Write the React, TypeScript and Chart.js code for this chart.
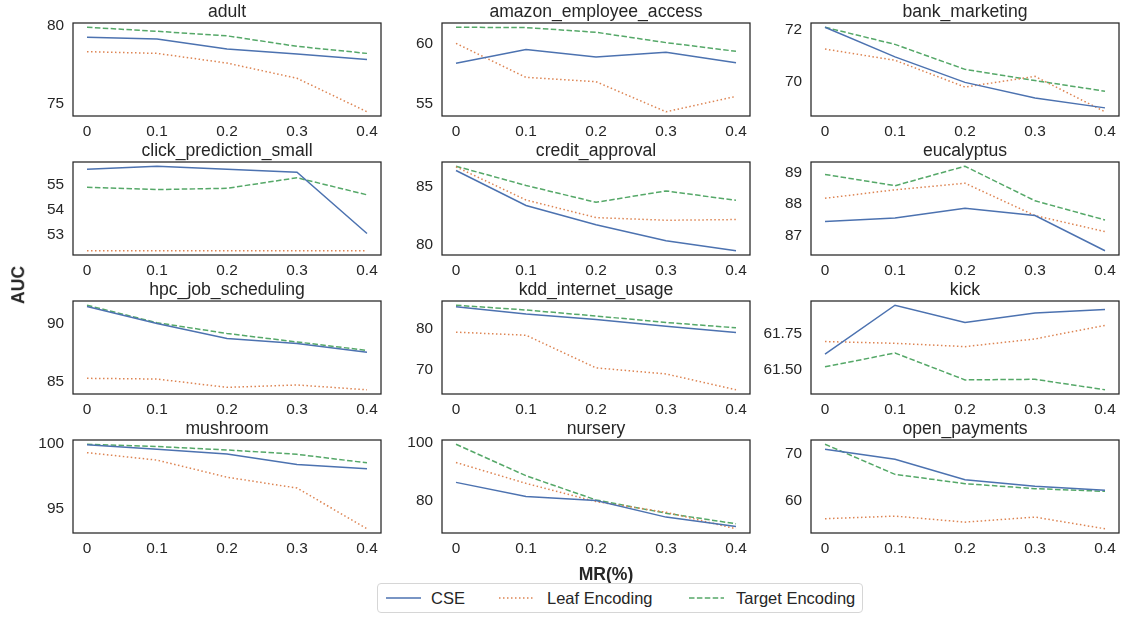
import React, { useEffect, useRef } from "react";
import { Chart, registerables } from "chart.js";

Chart.register(...registerables);

// ---------- data ----------
const mrValues = [0, 0.1, 0.2, 0.3, 0.4];
const xTickLabels = ["0", "0.1", "0.2", "0.3", "0.4"];
const seriesNames = ["CSE", "Leaf Encoding", "Target Encoding"];

const panelTitles = [
  "adult",
  "amazon_employee_access",
  "bank_marketing",
  "click_prediction_small",
  "credit_approval",
  "eucalyptus",
  "hpc_job_scheduling",
  "kdd_internet_usage",
  "kick",
  "mushroom",
  "nursery",
  "open_payments",
];

const cseAUC = [
  [79.25, 79.14, 78.5, 78.18, 77.83],
  [58.39, 59.53, 58.92, 59.31, 58.44],
  [72.08, 70.94, 69.96, 69.36, 68.98],
  [55.62, 55.74, 55.62, 55.5, 53.06],
  [86.37, 83.37, 81.72, 80.35, 79.48],
  [87.44, 87.55, 87.86, 87.63, 86.51],
  [91.53, 90.06, 88.74, 88.3, 87.53],
  [85.53, 83.72, 82.4, 80.74, 79.17],
  [61.611, 61.947, 61.828, 61.893, 61.917],
  [99.95, 99.6, 99.23, 98.42, 98.1],
  [86.33, 81.36, 79.97, 74.2, 70.94],
  [70.91, 68.8, 64.5, 63.09, 62.24],
];

const leafAUC = [
  [78.33, 78.22, 77.6, 76.63, 74.49],
  [60.05, 57.22, 56.86, 54.36, 55.64],
  [71.24, 70.81, 69.78, 70.19, 68.83],
  [52.37, 52.37, 52.37, 52.37, 52.37],
  [86.69, 83.84, 82.33, 82.1, 82.16],
  [88.18, 88.45, 88.66, 87.63, 87.12],
  [85.26, 85.2, 84.47, 84.68, 84.26],
  [79.26, 78.51, 70.49, 69.0, 65.11],
  [61.697, 61.685, 61.662, 61.715, 61.808],
  [99.34, 98.76, 97.44, 96.6, 93.45],
  [93.27, 85.98, 79.62, 75.9, 70.13],
  [56.26, 56.81, 55.54, 56.6, 54.14],
];

const targetAUC = [
  [79.89, 79.63, 79.34, 78.67, 78.22],
  [61.39, 61.36, 60.97, 60.11, 59.39],
  [72.08, 71.42, 70.46, 70.03, 69.62],
  [54.9, 54.81, 54.86, 55.28, 54.6],
  [86.74, 85.09, 83.64, 84.62, 83.81],
  [88.94, 88.58, 89.2, 88.1, 87.49],
  [91.65, 90.12, 89.18, 88.44, 87.7],
  [85.88, 84.71, 83.23, 81.65, 80.33],
  [61.523, 61.618, 61.433, 61.437, 61.365],
  [99.99, 99.81, 99.55, 99.21, 98.55],
  [99.65, 88.64, 80.2, 75.56, 71.88],
  [71.97, 65.62, 63.65, 62.6, 62.03],
];

const yTickValues = [
  [75, 80],
  [55, 60],
  [70, 72],
  [53, 54, 55],
  [80, 85],
  [87, 88, 89],
  [85, 90],
  [70, 80],
  [61.5, 61.75],
  [95, 100],
  [80, 100],
  [60, 70],
];

// ---------- styling / layout ----------
const FONT = '"Liberation Sans", Arial, Helvetica, sans-serif';
const TEXT = "#262626";
const COLORS = ["#4c72b0", "#dd8452", "#55a868"];
const DASHES: number[][] = [[], [1.5, 2.5], [5.5, 2.4]];

const COL_LEFT = [73, 442, 811];
const ROW_TOP = [23, 162, 301, 440];
const PLOT_W = 308;
const PLOT_H = 93;
const PAD_L = 70;
const PAD_T = 24;
const PAD_R = 6;
const PAD_B = 30;

const framePlugin = {
  id: "frame",
  afterDraw(chart: any, _args: any, opts: any) {
    const { ctx, chartArea: a } = chart;
    ctx.save();
    ctx.strokeStyle = TEXT;
    ctx.lineWidth = 1.25;
    ctx.setLineDash([]);
    ctx.strokeRect(a.left, a.top, a.right - a.left, a.bottom - a.top);
    ctx.fillStyle = TEXT;
    ctx.font = `17.6px ${FONT}`;
    ctx.textAlign = "center";
    ctx.textBaseline = "alphabetic";
    ctx.fillText(opts.text || "", (a.left + a.right) / 2, a.top - 6);
    ctx.restore();
  },
};

function Panel({ idx }: { idx: number }) {
  const ref = useRef<HTMLCanvasElement | null>(null);
  const col = idx % 3;
  const row = Math.floor(idx / 3);
  const w = PAD_L + PLOT_W + PAD_R;
  const h = PAD_T + PLOT_H + PAD_B;

  useEffect(() => {
    if (!ref.current) return;
    const all = [...cseAUC[idx], ...leafAUC[idx], ...targetAUC[idx]];
    const lo = Math.min(...all);
    const hi = Math.max(...all);
    const m = (hi - lo) * 0.05;
    const ticks = yTickValues[idx];
    const decimals = ticks.some((t) => !Number.isInteger(t)) ? 2 : 0;
    const series = [cseAUC[idx], leafAUC[idx], targetAUC[idx]];

    const chart = new Chart(ref.current, {
      type: "line",
      data: {
        datasets: series.map((vals, s) => ({
          label: seriesNames[s],
          data: mrValues.map((x, i) => ({ x, y: vals[i] })),
          borderColor: COLORS[s],
          backgroundColor: COLORS[s],
          borderWidth: 1.5,
          borderDash: DASHES[s],
          pointRadius: 0,
          tension: 0,
          fill: false,
        })),
      },
      options: {
        animation: false,
        responsive: false,
        devicePixelRatio: 1,
        layout: { padding: { left: 0, top: PAD_T, right: PAD_R, bottom: 0 } },
        plugins: {
          legend: { display: false },
          tooltip: { enabled: false },
          frame: { text: panelTitles[idx] },
        } as any,
        scales: {
          x: {
            type: "linear",
            min: -0.02,
            max: 0.42,
            grid: { display: false, drawTicks: false },
            border: { display: false },
            afterBuildTicks: (s: any) => {
              s.ticks = mrValues.map((v) => ({ value: v }));
            },
            afterFit: (s: any) => {
              s.height = PAD_B;
            },
            ticks: {
              autoSkip: false,
              maxRotation: 0,
              padding: 7,
              color: TEXT,
              font: { family: FONT, size: 15.4 },
              callback: (v: any) => {
                const i = mrValues.indexOf(Number(v));
                return i >= 0 ? xTickLabels[i] : "";
              },
            },
          },
          y: {
            type: "linear",
            min: lo - m,
            max: hi + m,
            grid: { display: false, drawTicks: false },
            border: { display: false },
            afterBuildTicks: (s: any) => {
              s.ticks = ticks.map((v) => ({ value: v }));
            },
            afterFit: (s: any) => {
              s.width = PAD_L;
            },
            ticks: {
              autoSkip: false,
              padding: 9,
              color: TEXT,
              font: { family: FONT, size: 15.4 },
              callback: (v: any) => Number(v).toFixed(decimals),
            },
          },
        },
      },
      plugins: [framePlugin as any],
    });
    return () => chart.destroy();
  }, [idx]);

  return (
    <canvas
      ref={ref}
      width={w}
      height={h}
      style={{
        position: "absolute",
        left: COL_LEFT[col] - PAD_L,
        top: ROW_TOP[row] - PAD_T,
        width: w,
        height: h,
      }}
    />
  );
}

function LegendSample({ s }: { s: number }) {
  const ref = useRef<HTMLCanvasElement | null>(null);
  useEffect(() => {
    const c = ref.current;
    if (!c) return;
    const ctx = c.getContext("2d")!;
    ctx.clearRect(0, 0, c.width, c.height);
    ctx.strokeStyle = COLORS[s];
    ctx.lineWidth = 1.5;
    ctx.setLineDash(DASHES[s]);
    ctx.beginPath();
    ctx.moveTo(0, 5);
    ctx.lineTo(35, 5);
    ctx.stroke();
  }, [s]);
  return <canvas ref={ref} width={35} height={10} style={{ display: "block" }} />;
}

const legendSampleX = [8, 121, 311];
const legendTextX = [53, 169, 358];

export default function App() {
  return (
    <div
      style={{
        position: "absolute",
        left: 0,
        top: 0,
        width: 1129,
        height: 618,
        background: "#ffffff",
        overflow: "hidden",
        fontFamily: FONT,
        color: TEXT,
      }}
    >
      {panelTitles.map((_, i) => (
        <Panel key={i} idx={i} />
      ))}
      <div
        style={{
          position: "absolute",
          left: 19,
          top: 285,
          transform: "translate(-50%, -50%) rotate(-90deg)",
          fontWeight: "bold",
          fontSize: 17.6,
          whiteSpace: "nowrap",
          lineHeight: 1,
        }}
      >
        AUC
      </div>
      <div
        style={{
          position: "absolute",
          left: 606,
          top: 575,
          transform: "translate(-50%, -50%)",
          fontWeight: "bold",
          fontSize: 17.6,
          whiteSpace: "nowrap",
          lineHeight: 1,
        }}
      >
        MR(%)
      </div>
      <div
        style={{
          position: "absolute",
          left: 377,
          top: 583,
          width: 486,
          height: 30,
          boxSizing: "border-box",
          border: "1px solid #d6d6d6",
          borderRadius: 4,
          background: "#ffffff",
        }}
      >
        {seriesNames.map((name, s) => (
          <React.Fragment key={name}>
            <div style={{ position: "absolute", left: legendSampleX[s], top: 9 }}>
              <LegendSample s={s} />
            </div>
            <div
              style={{
                position: "absolute",
                left: legendTextX[s],
                top: 14,
                transform: "translateY(-50%)",
                fontSize: 16.5,
                lineHeight: 1,
                whiteSpace: "nowrap",
              }}
            >
              {name}
            </div>
          </React.Fragment>
        ))}
      </div>
    </div>
  );
}
